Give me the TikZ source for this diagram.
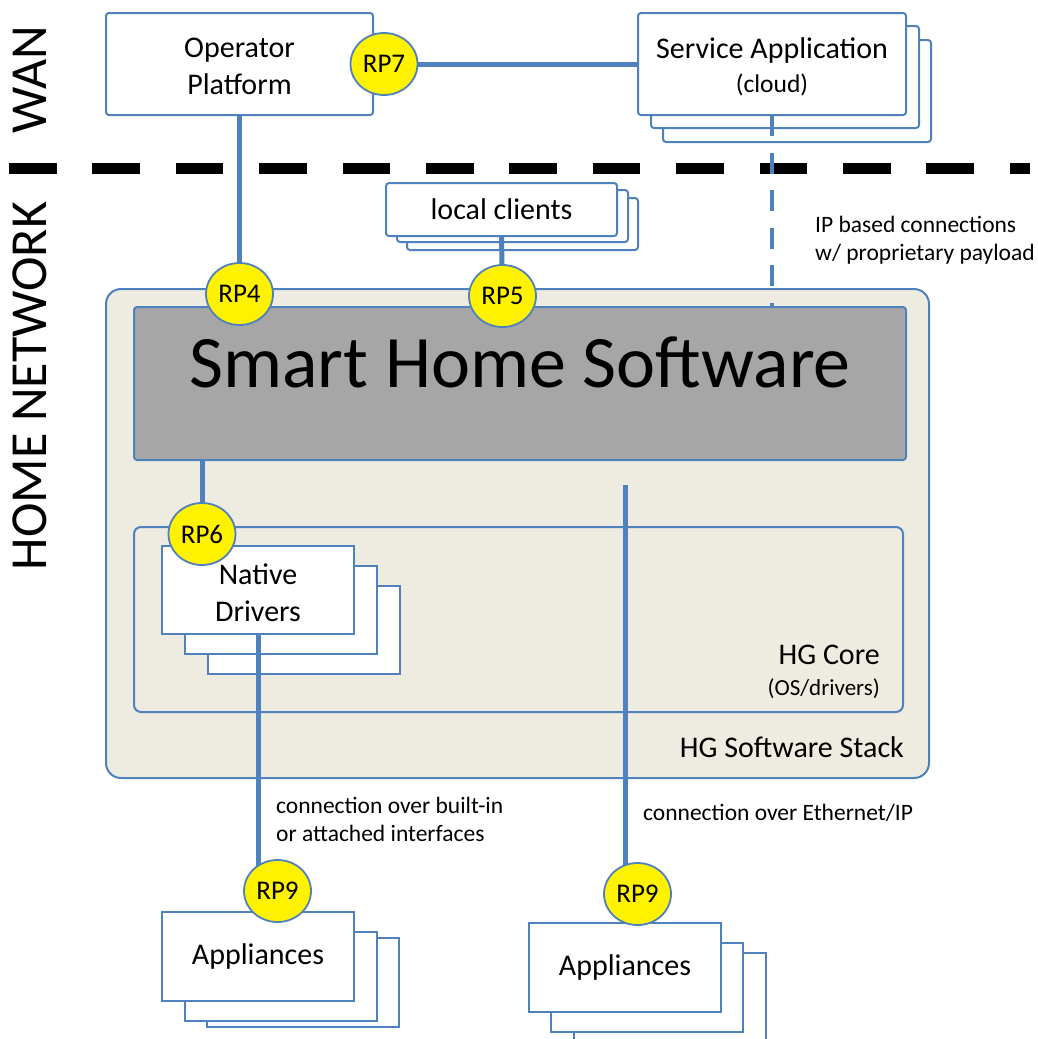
\documentclass[tikz,border=0pt]{standalone}
\usepackage{fontspec}
\setmainfont{Carlito}
\usetikzlibrary{shapes.geometric}
\definecolor{bl}{HTML}{4F81BD}
\definecolor{beige}{HTML}{EEECE1}
\definecolor{shsgray}{HTML}{A6A6A6}
\newcommand\myfM{\fontsize{30}{37}\selectfont}
\newcommand\myfS{\fontsize{23.5}{28}\selectfont}
\newcommand\myfR{\fontsize{27}{30}\selectfont}
\newcommand\myfH{\fontsize{52}{60}\selectfont}
\newcommand\myfT{\fontsize{74}{80}\selectfont}
\begin{document}
\begin{tikzpicture}[x=1pt,y=-1pt,
  box/.style={draw=bl, line width=2pt, fill=white, rounded corners=3pt, inner sep=0pt, outer sep=0pt, align=center, anchor=north west, font=\myfM},
  sq/.style={box, sharp corners},
  rp/.style={ellipse, draw=bl, fill=yellow, line width=1.8pt, minimum width=67pt, minimum height=62pt, inner sep=0pt, font=\myfR},
  conn/.style={draw=bl, line width=5pt},
  lbl/.style={inner sep=0pt, font=\myfS, align=left},
  txt/.style={inner sep=0pt, align=center, font=\myfM}]
\useasboundingbox (0,0) rectangle (1038,1039);
% WAN / home network divider
\coordinate (divL) at (9,168);
\coordinate (divR) at (1030,168);
\draw[line width=11pt, dash pattern=on 47.5pt off 35.9pt] (divL) -- (divR);
\node[rotate=90, font=\myfH, inner sep=0pt] (wan) at (30,80) {WAN};
\node[rotate=90, font=\myfH, inner sep=0pt] (home) at (30,386) {HOME NETWORK};
% service application
\node[box, minimum width=268pt, minimum height=102pt] (sa3) at (663,40) {};
\node[box, minimum width=268pt, minimum height=102pt] (sa2) at (651,26) {};
\node[box, minimum width=268pt, minimum height=102pt] (sa) at (638,13) {};
\node[txt, font=\fontsize{30}{35}\selectfont] (satxt) at (772,67) {Service Application\\[-1pt]{\fontsize{25.5}{30}\selectfont (cloud)}};
% operator platform
\node[box, minimum width=267pt, minimum height=102pt] (op) at (106,13) {};
\node[txt] (optxt) at (239.5,66) {Operator\\Platform};
% local clients
\node[box, minimum width=231pt, minimum height=52pt] (lc3) at (407,198) {};
\node[box, minimum width=231pt, minimum height=52pt] (lc2) at (397,190) {};
\node[box, minimum width=231pt, minimum height=53pt] (lc) at (386,183) {local clients};
% stack
\node[box, fill=beige, rounded corners=15pt, minimum width=823pt, minimum height=489pt] (stack) at (106,289) {};
\node[box, fill=shsgray, minimum width=772pt, minimum height=153pt] (shs) at (134,307) {};
\node[inner sep=0pt, font=\myfT] (shstxt) at (520,362) {Smart Home Software};
\node[box, fill=beige, rounded corners=7pt, minimum width=769pt, minimum height=185pt] (core) at (134,527) {};
\node[inner sep=0pt, font=\myfM, anchor=east] (coretxt) at (880,655) {HG Core};
\node[inner sep=0pt, font=\fontsize{23}{28}\selectfont, anchor=east] (coresub) at (880,689) {(OS/drivers)};
\node[inner sep=0pt, font=\myfM, anchor=east] (stacktxt) at (904,747) {HG Software Stack};
% native drivers
\node[sq, minimum width=192pt, minimum height=88pt] (nd3) at (208,586) {};
\node[sq, minimum width=192pt, minimum height=88pt] (nd2) at (185,566) {};
\node[sq, minimum width=192pt, minimum height=88pt] (nd) at (162,546) {};
\node[txt] (ndtxt) at (258,592.5) {Native\\Drivers};
% appliances left
\node[sq, minimum width=192pt, minimum height=89pt] (apl3) at (207,938) {};
\node[sq, minimum width=192pt, minimum height=89pt] (apl2) at (185,932) {};
\node[sq, minimum width=192pt, minimum height=89pt] (apl) at (162,912) {Appliances};
% appliances right
\node[sq, minimum width=192pt, minimum height=89pt] (apr3) at (574,953) {};
\node[sq, minimum width=192pt, minimum height=89pt] (apr2) at (551,943) {};
\node[sq, minimum width=192pt, minimum height=89pt] (apr) at (529,923) {Appliances};
% labels
\node[lbl, anchor=west] (iplbl) at (815,240) {IP based connections\\w/ proprietary payload};
\node[lbl, anchor=west] (bilbl) at (276,819) {connection over built-in\\or attached interfaces};
\node[lbl, anchor=west] (ethlbl) at (643,813) {connection over Ethernet/IP};
% reference point centres
\coordinate (c7) at (384,64);
\coordinate (c4) at (239.5,294);
\coordinate (c5) at (502.5,296);
\coordinate (c6) at (202,534);
\coordinate (c9a) at (277.5,891);
\coordinate (c9b) at (637.5,894);
\coordinate (ethtop) at (625,485);
% connectors
\draw[conn] (c7) -- (sa.west);
\draw[conn] (op.south) -- (c4);
\draw[conn] (lc.south) -- (c5);
\draw[conn, line width=4.5pt, dash pattern=on 21pt off 16.5pt] (sa.south) -- (sa.south |- shs.north);
\draw[conn] (c6 |- shs.south) -- (c6);
\draw[conn] (nd.south) -- (nd.south |- c9a);
\draw[conn] (ethtop) -- (ethtop |- c9b);
% reference points
\node[rp] (rp7) at (c7) {RP7};
\node[rp] (rp4) at (c4) {RP4};
\node[rp] (rp5) at (c5) {RP5};
\node[rp] (rp6) at (c6) {RP6};
\node[rp] (rp9a) at (c9a) {RP9};
\node[rp] (rp9b) at (c9b) {RP9};
\end{tikzpicture}
\end{document}
